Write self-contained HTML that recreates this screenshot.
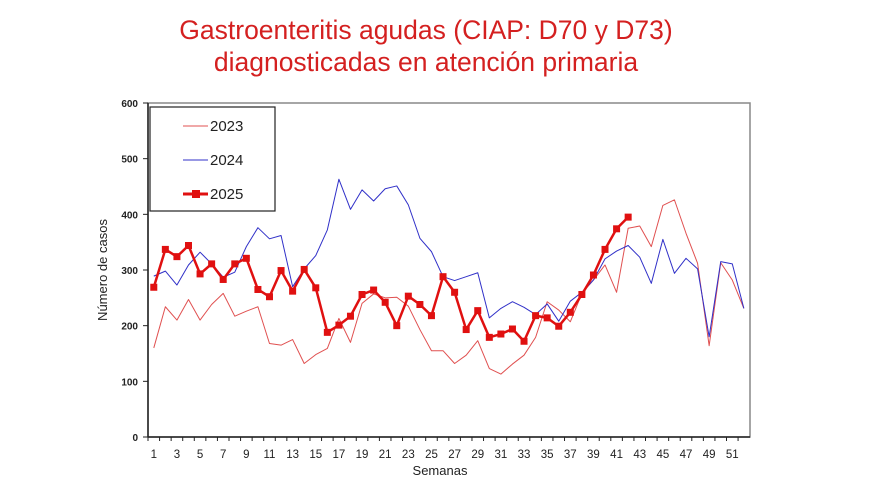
<!DOCTYPE html>
<html><head><meta charset="utf-8"><style>
html,body{margin:0;padding:0;background:#fff;width:880px;height:495px;overflow:hidden}
text{font-family:"Liberation Sans",sans-serif}
</style></head><body>
<svg id="s" width="880" height="495" xmlns="http://www.w3.org/2000/svg">
<text x="426" y="39" text-anchor="middle" font-size="26.5" fill="#d42020">Gastroenteritis agudas (CIAP: D70 y D73)</text>
<text x="426" y="71" text-anchor="middle" font-size="26.5" fill="#d42020">diagnosticadas en atención primaria</text>
<rect x="148" y="103" width="602" height="334" fill="none" stroke="#888" stroke-width="1.5"/>
<line x1="148" y1="103" x2="148" y2="437" stroke="#222" stroke-width="1.5"/>
<line x1="148" y1="437" x2="750" y2="437" stroke="#222" stroke-width="1.5"/>
<g id="g"></g>
<rect x="150" y="107" width="125" height="104" fill="#fff" stroke="#222" stroke-width="1.2"/>
<line x1="183" y1="126" x2="208" y2="126" stroke="#e05050" stroke-width="1"/>
<text x="210" y="131" font-size="15" fill="#222">2023</text>
<line x1="183" y1="160" x2="208" y2="160" stroke="#3030c8" stroke-width="1"/>
<text x="210" y="165" font-size="15" fill="#222">2024</text>
<line x1="183" y1="194" x2="208" y2="194" stroke="#e01010" stroke-width="3"/>
<rect x="192" y="190" width="8" height="8" fill="#e01010"/>
<text x="210" y="199" font-size="15" fill="#222">2025</text>
<text transform="translate(107,270) rotate(-90)" text-anchor="middle" font-size="13" fill="#222">Número de casos</text>
<text x="440" y="475" text-anchor="middle" font-size="13" fill="#222">Semanas</text>
</svg>
<script>
var g=document.getElementById('g'),ns='http://www.w3.org/2000/svg';
function X(i){return 148+(i-0.5)*11.57}
function Y(v){return 437-v*334/600}
function el(t,a,tx){var e=document.createElementNS(ns,t);for(var k in a)e.setAttribute(k,a[k]);if(tx!=null)e.textContent=tx;g.appendChild(e);return e}
for(var v=0;v<=600;v+=100){el('line',{x1:143,y1:Y(v),x2:148,y2:Y(v),stroke:'#222'});el('text',{x:138,y:Y(v)+4,'text-anchor':'end','font-size':10,'font-weight':'bold',fill:'#222'},v)}
for(var i=1;i<=52;i++){el('line',{x1:X(i)-5.78,y1:437,x2:X(i)-5.78,y2:441,stroke:'#222'});if(i%2)el('text',{x:X(i),y:458,'text-anchor':'middle','font-size':11.5,fill:'#222'},i)}
var d23=[160,234,210,247,210,238,258,217,226,234,168,165,175,132,148,159,213,170,240,257,250,251,235,193,155,155,132,147,173,123,113,131,147,179,243,228,207,258,282,309,260,375,379,342,416,426,366,312,164,313,282,231];
var d24=[289,298,273,309,332,311,287,296,342,376,356,362,270,302,326,372,463,409,444,424,446,451,417,357,333,288,281,288,295,214,231,243,233,220,239,208,244,260,282,320,334,344,323,276,355,294,321,302,180,315,311,231];
var d25=[269,337,324,344,293,311,283,311,321,265,252,299,262,301,268,188,201,217,256,264,242,200,253,238,218,288,260,193,227,179,185,194,172,218,214,199,224,256,291,337,374,395];
function line(d,c,w){el('polyline',{points:d.map(function(v,i){return X(i+1)+','+Y(v)}).join(' '),fill:'none',stroke:c,'stroke-width':w,'stroke-linejoin':'round'})}
line(d23,'#e05050',1);line(d24,'#3030c8',1);line(d25,'#e01010',2.5);
d25.forEach(function(v,i){el('rect',{x:X(i+1)-3.5,y:Y(v)-3.5,width:7,height:7,fill:'#e01010'})});
</script>
</body></html>
